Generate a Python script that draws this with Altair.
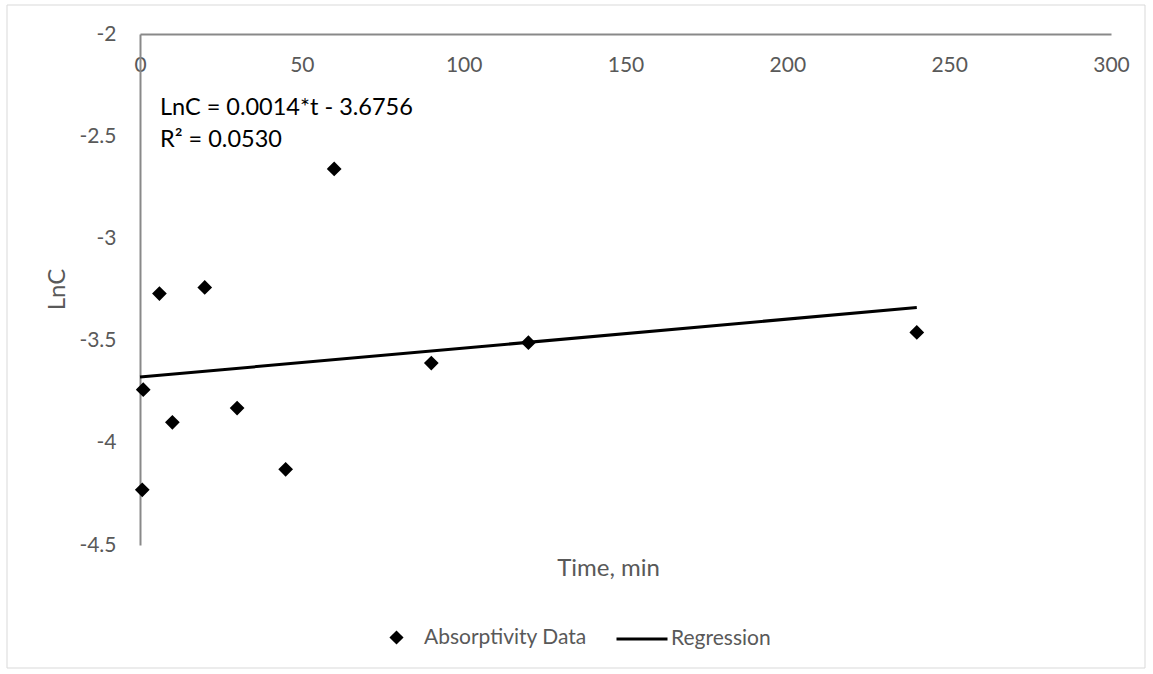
import altair as alt
import pandas as pd

# ---- data ----
time_min = [0.7, 1, 6, 10, 20, 30, 45, 60, 90, 120, 240]
lnc = [-4.23, -3.74, -3.27, -3.90, -3.24, -3.83, -4.13, -2.66, -3.61, -3.51, -3.46]
series_names = ["Absorptivity Data", "Regression"]
annotation_lines = ["LnC = 0.0014*t - 3.6756", "R\u00b2 = 0.0530"]
x_ticks = [0, 50, 100, 150, 200, 250, 300]
y_ticks = [-4.5, -4, -3.5, -3, -2.5, -2]

df = pd.DataFrame({"t": time_min, "lnc": lnc, "series": series_names[0]})

FONT = "Lato"
GRAY = "#595959"
AXIS_GRAY = "#898989"
W, H = 971, 511

xscale = alt.Scale(domain=[0, 300], nice=False, zero=False)
yscale = alt.Scale(domain=[-4.5, -2], nice=False, zero=False)

x_axis = alt.Axis(
    orient="top", values=x_ticks, grid=False, ticks=False,
    domainColor=AXIS_GRAY, domainWidth=2,
    labelFont=FONT, labelFontSize=21, labelColor=GRAY,
    labelBaseline="top", labelPadding=-20, labelFlush=False,
    labelExpr="datum.value + ''",
    title="Time, min", titleFont=FONT, titleFontSize=24, titleFontWeight="normal",
    titleColor=GRAY, titleX=468, titleY=534, titleAlign="center",
    titleBaseline="middle", titleAngle=0,
)
y_axis = alt.Axis(
    orient="left", values=y_ticks, grid=False, ticks=False,
    domainColor=AXIS_GRAY, domainWidth=2,
    labelFont=FONT, labelFontSize=21, labelColor=GRAY, labelPadding=24,
    labelExpr="datum.value + ''", labelFlush=False,
    title="LnC", titleFont=FONT, titleFontSize=24, titleFontWeight="normal",
    titleColor=GRAY, titleX=-83, titleY=255, titleAlign="center",
    titleBaseline="middle", titleAngle=-90,
)

base = alt.Chart(df)

points = base.mark_point(
    filled=True, opacity=1, fill="black", stroke="black",
    strokeWidth=3, strokeJoin="miter", size=110,
).encode(
    x=alt.X("t:Q", scale=xscale, axis=x_axis),
    y=alt.Y("lnc:Q", scale=yscale, axis=y_axis),
    shape=alt.Shape(
        "series:N",
        scale=alt.Scale(domain=[series_names[0]], range=["diamond"]),
        legend=alt.Legend(
            title=None, orient="none", legendX=246, legendY=593,
            labelOffset=17, symbolSize=200, symbolStrokeWidth=0,
            symbolStrokeColor="black", symbolFillColor="black",
            labelLimit=400,
        ),
    ),
)

line = base.transform_regression(
    "t", "lnc", extent=[0, 240]
).transform_calculate(
    series="'" + series_names[1] + "'"
).mark_line(strokeWidth=3).encode(
    x=alt.X("t:Q", scale=xscale, axis=x_axis),
    y=alt.Y("lnc:Q", scale=yscale, axis=y_axis),
    color=alt.Color(
        "series:N",
        scale=alt.Scale(domain=[series_names[1]], range=["black"]),
        legend=alt.Legend(
            title=None, orient="none", legendX=475, legendY=578,
            labelOffset=2, symbolSize=2601, symbolStrokeWidth=3,
            symbolType="stroke", labelLimit=400,
        ),
    ),
)

note = alt.Chart(pd.DataFrame({"k": [0]})).mark_text(
    align="left", baseline="middle", font=FONT, fontSize=23.5,
    color="black", lineHeight=32,
).encode(
    x=alt.value(20), y=alt.value(74), text=alt.value(annotation_lines),
)

border = alt.Chart(pd.DataFrame({"k": [0]})).mark_rect(
    fill="transparent", stroke="#d9d9d9", strokeWidth=1,
).encode(
    x=alt.value(-133), x2=alt.value(1005), y=alt.value(-29), y2=alt.value(634),
)

chart = alt.layer(border, line, points, note).properties(
    width=W, height=H,
    autosize=alt.AutoSizeParams(type="none"),
    padding={"left": 140, "top": 34, "right": 42, "bottom": 129},
    background="white",
).configure_view(stroke=None).configure_legend(
    padding=0, direction="horizontal",
    labelFont=FONT, labelFontSize=21, labelColor=GRAY, symbolOpacity=1,
)

chart.save("out.html", embed_options={"renderer": "svg", "actions": False})
